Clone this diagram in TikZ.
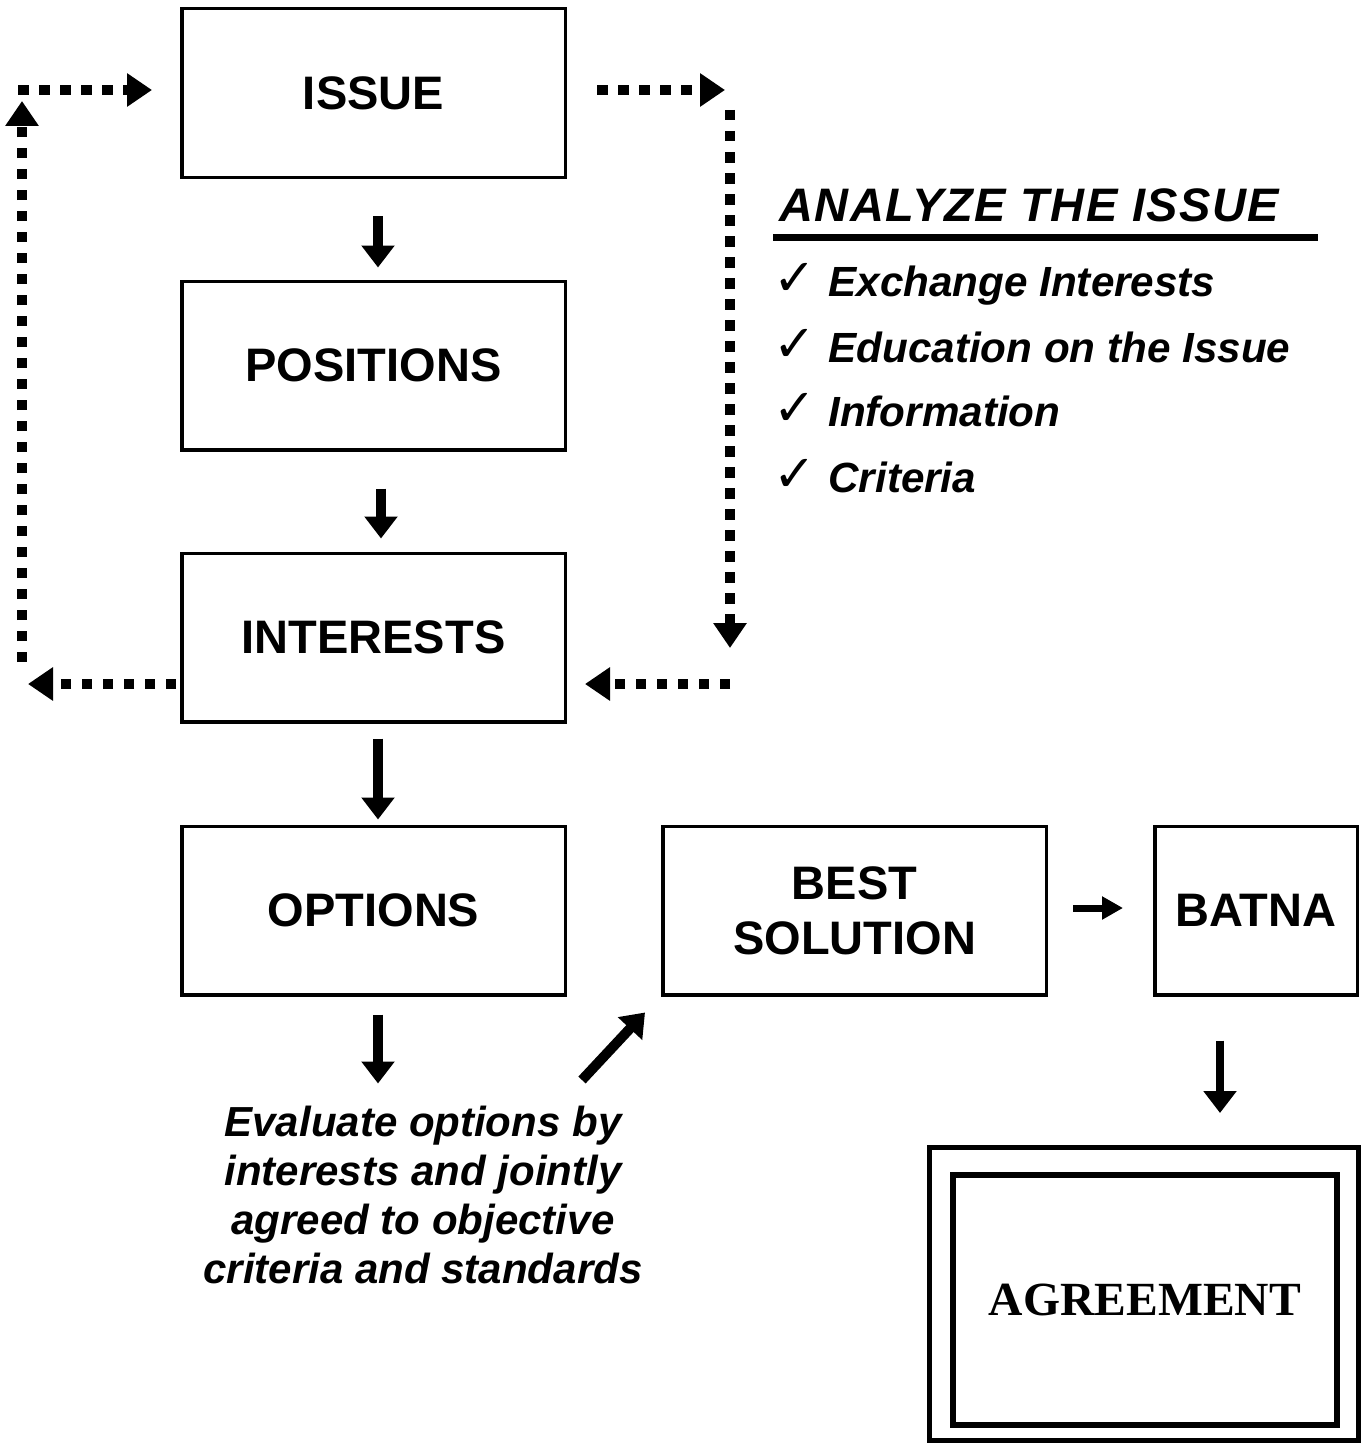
\documentclass[tikz,border=0pt]{standalone}
\usepackage{fontspec}
\setmainfont{Liberation Sans}
\newfontfamily\agreefont{Liberation Serif}
\newfontfamily\headfont[LetterSpace=3]{Liberation Sans}
\newfontfamily\checkfont{DejaVu Sans}
\usetikzlibrary{arrows.meta,calc}
\begin{document}
\begin{tikzpicture}[x=0.5pt,y=-0.5pt,
  box/.style={draw, line width=1.75pt, minimum width=191.75pt, minimum height=84.25pt,
    inner sep=0pt, align=center, font=\fontsize{23.5}{27.5}\selectfont\bfseries},
  solidarrow/.style={line width=5pt, -{Triangle[length=11pt,width=16pt]}},
  smallarrow/.style={line width=3.5pt, -{Triangle[length=10.5pt,width=11pt]}},
  dotarrow/.style={line width=5.25pt, line cap=butt, dash pattern=on 5.25pt off 5.25pt,
    -{Triangle[length=12.5pt,width=16pt]}},
  listitem/.style={anchor=base west, inner sep=0pt, font=\fontsize{21.1}{24}\selectfont\bfseries\itshape},
  checkitem/.style={anchor=base west, inner sep=0pt, font=\checkfont\fontsize{25.5}{28}\selectfont},
]
\useasboundingbox (0,0) rectangle (1364,1445);

% boxes
\node[box] (issue) at (373.5,93) {ISSUE};
\node[box] (positions) at (373.5,365.5) {POSITIONS};
\node[box] (interests) at (373.5,637.5) {INTERESTS};
\node[box] (options) at (373.5,910.5) {OPTIONS};
\node[box] (best) at (854.5,910.5) {BEST\\SOLUTION};
\node[box, minimum width=101.25pt] (batna) at (1256,910.5) {BATNA};

% agreement double box
\node[draw, line width=2.5pt, minimum width=214.5pt, minimum height=146.5pt, inner sep=0pt] (agreeout) at (1144,1294) {};
\node[draw, line width=3pt, minimum width=192pt, minimum height=125pt, inner sep=0pt,
  font=\agreefont\fontsize{23.8}{27}\selectfont\bfseries] (agree) at (1145,1300) {AGREEMENT};

% solid arrows
\draw[solidarrow] ($(issue.south)+(4.5,37)$) -- ($(positions.north)+(4.5,-12)$);
\draw[solidarrow] ($(positions.south)+(7.5,37)$) -- ($(interests.north)+(7.5,-13)$);
\draw[solidarrow] ($(interests.south)+(4.5,15)$) -- ($(options.north)+(4.5,-5)$);
\coordinate (evaltop) at ($(options.south)+(4.5,87)$);
\draw[solidarrow] ($(options.south)+(4.5,18)$) -- (evaltop);
\coordinate (diagstart) at (582,1080);
\draw[solidarrow] (diagstart) -- ($(best.south west)+(-16,16)$);
\draw[smallarrow] ($(best.east)+(25,-2.5)$) -- ($(batna.west)+(-30,-2.5)$);
\draw[solidarrow, line width=4pt] ($(batna.south)+(-36,44)$) -- ($(agreeout.north)+(76,-32)$);

% dotted loop arrows
\coordinate (L1) at (22,662);
\coordinate (L2) at (22,101);
\coordinate (L3) at (18,90);
\coordinate (L4) at (152,90);
\coordinate (R1) at (597,90);
\coordinate (R2) at (725,90);
\coordinate (R3) at (730,110);
\coordinate (R4) at (730,648);
\coordinate (R5) at (730,684);
\coordinate (R6) at (585,684);
\coordinate (L5) at (176,684);
\coordinate (L6) at (28,684);
\draw[dotarrow] (L1) -- (L2);
\draw[dotarrow] (L3) -- (L4);
\draw[dotarrow] (R1) -- (R2);
\draw[dotarrow] (R3) -- (R4);
\draw[dotarrow] (R5) -- (R6);
\draw[dotarrow] (L5) -- (L6);

% analyze the issue
\node[anchor=base west, inner sep=0pt, font=\headfont\fontsize{23.5}{27}\selectfont\bfseries\itshape] (head) at (779,221) {ANALYZE THE ISSUE};
\coordinate (ulA) at (773,237);
\coordinate (ulB) at (1318,237);
\draw[line width=3.5pt] (ulA) -- (ulB);

\node[checkitem] (c1) at (773,295) {✓};
\node[checkitem] (c2) at (773,361) {✓};
\node[checkitem] (c3) at (773,425) {✓};
\node[checkitem] (c4) at (773,491) {✓};
\node[listitem] (t1) at (828,296) {Exchange Interests};
\node[listitem] (t2) at (828,362) {Education on the Issue};
\node[listitem] (t3) at (828,426) {Information};
\node[listitem] (t4) at (828,492) {Criteria};

% evaluation text
\node[inner sep=0pt, align=center, font=\fontsize{21}{24.5}\selectfont\bfseries\itshape] (eval) at (423,1195)
  {Evaluate options by\\interests and jointly\\agreed to objective\\criteria and standards};
\end{tikzpicture}
\end{document}
